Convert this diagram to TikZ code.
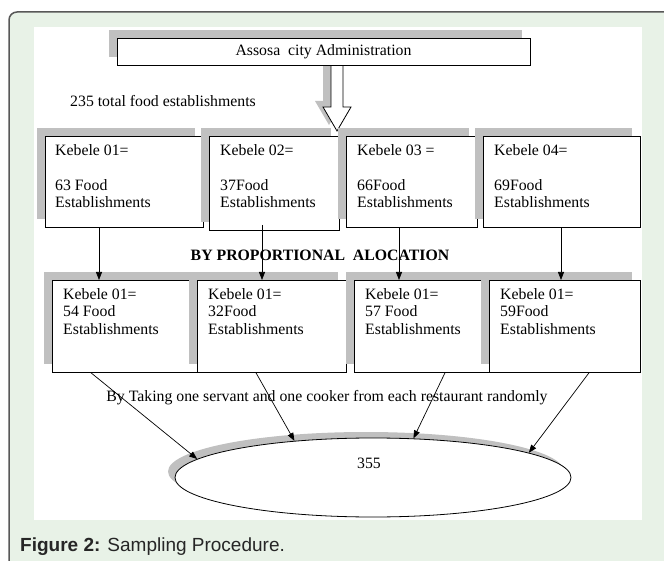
\documentclass[tikz,border=0pt]{standalone}
\usepackage{fontspec}
\setmainfont{Liberation Serif}
\newfontfamily\capfont{Liberation Sans}
\usetikzlibrary{shapes.geometric,shadows,arrows.meta}

\definecolor{panelgreen}{RGB}{232,242,231}
\definecolor{framegray}{RGB}{88,88,88}
\definecolor{shadowgray}{RGB}{192,192,192}

\tikzset{
  shade box/.style={drop shadow={shadow xshift=-8pt,shadow yshift=8pt,fill=shadowgray,opacity=1}},
  kebele/.style={draw,fill=white,line width=0.8pt,shade box,anchor=north west,inner sep=0pt},
  boxtext/.style={anchor=north west,inner sep=0pt,align=left},
  down/.style={line width=0.7pt,-{Triangle[length=8pt,width=6pt]}},
}

\begin{document}
\begin{tikzpicture}[x=1pt,y=-1pt,font=\fontsize{15.8}{17.5}\selectfont]
    \clip (0,0) rectangle (664,561);
    % panel round the figure
    \fill[white] (0,0) rectangle (664,561);
    \draw[fill=panelgreen,draw=framegray,line width=1.5pt,rounded corners=8pt] (9,12) rectangle (700,600);
    \fill[white] (34,27) rectangle (642,520);

    % hollow arrow, drawn first so the box covers its top
    \draw[fill=white,line width=0.8pt,drop shadow={shadow xshift=-8pt,shadow yshift=6pt,fill=shadowgray,opacity=1}]
        (331,45) -- (331,107) -- (323,107) -- (337,131) -- (351,107) -- (343,107) -- (343,45) -- cycle;
    \node[kebele,minimum width=413,minimum height=27,anchor=center] (admin) at (323.5,51.5) {Assosa\ \ city Administration};
    \node[anchor=west,inner sep=0pt] (total) at (70,101) {235 total food establishments};

    % first row
    \node[kebele,minimum width=158,minimum height=91] (k1) at (45,136) {};
    \node[boxtext] (k1t) at ([shift={(10,8)}]k1.north west) {Kebele 01=\\[17.5pt]63 Food\\Establishments};
    \node[kebele,minimum width=130,minimum height=94] (k2) at (209,136) {};
    \node[boxtext] (k2t) at ([shift={(11,8)}]k2.north west) {Kebele 02=\\[17.5pt]37Food\\Establishments};
    \node[kebele,minimum width=131,minimum height=91] (k3) at (346,136) {};
    \node[boxtext] (k3t) at ([shift={(11,8)}]k3.north west) {Kebele 03 =\\[17.5pt]66Food\\Establishments};
    \node[kebele,minimum width=157,minimum height=91] (k4) at (483,136) {};
    \node[boxtext] (k4t) at ([shift={(11,8)}]k4.north west) {Kebele 04=\\[17.5pt]69Food\\Establishments};

    \node[font=\fontsize{15.8}{17.5}\selectfont\bfseries,inner sep=0pt] (alloc) at (320,255) {BY PROPORTIONAL\ \ ALOCATION};

    % second row
    \node[kebele,minimum width=150,minimum height=92] (s1) at (52,280) {};
    \node[boxtext] (s1t) at ([shift={(11,8)}]s1.north west) {Kebele 01=\\54 Food\\Establishments};
    \node[kebele,minimum width=149,minimum height=92] (s2) at (197,280) {};
    \node[boxtext] (s2t) at ([shift={(11,8)}]s2.north west) {Kebele 01=\\32Food\\Establishments};
    \node[kebele,minimum width=140,minimum height=92] (s3) at (354,280) {};
    \node[boxtext] (s3t) at ([shift={(11,8)}]s3.north west) {Kebele 01=\\57 Food\\Establishments};
    \node[kebele,minimum width=151,minimum height=92] (s4) at (489,280) {};
    \node[boxtext] (s4t) at ([shift={(11,8)}]s4.north west) {Kebele 01=\\59Food\\Establishments};

    \draw[down] ([xshift=54]k1.south west) -- ([xshift=54]k1.south west |- s1.north);
    \draw[down] ([shift={(53,-6)}]k2.south west) -- ([xshift=53]k2.south west |- s2.north);
    \draw[down] ([xshift=53]k3.south west) -- ([xshift=53]k3.south west |- s3.north);
    \draw[down] ([xshift=78]k4.south west) -- ([xshift=78]k4.south west |- s4.north);

    \node[inner sep=0pt] (taking) at (327,398) {By Taking one servant and one cooker from each restaurant randomly};

    % sample
    \node[ellipse,draw,fill=white,line width=0.8pt,minimum width=396,minimum height=79,inner sep=0pt,
          drop shadow={shadow xshift=-7pt,shadow yshift=6pt,fill=shadowgray,opacity=1}] (ell) at (373,477.5) {};
    \node[inner sep=0pt] (total2) at (369,463) {355};

    \draw[down] ([xshift=39]s1.south west) -- (ell.174);
    \draw[down] ([xshift=59]s2.south west) -- (ell.155);
    \draw[down] ([xshift=91]s3.south west) -- (ell.44);
    \draw[down] ([xshift=100]s4.south west) -- (ell.9);

    \node[anchor=base west,inner sep=0pt,text=black!85,font=\capfont\fontsize{19}{22}\selectfont] (caption) at (20,551)
        {\textbf{Figure 2:} Sampling Procedure.};
\end{tikzpicture}
\end{document}
